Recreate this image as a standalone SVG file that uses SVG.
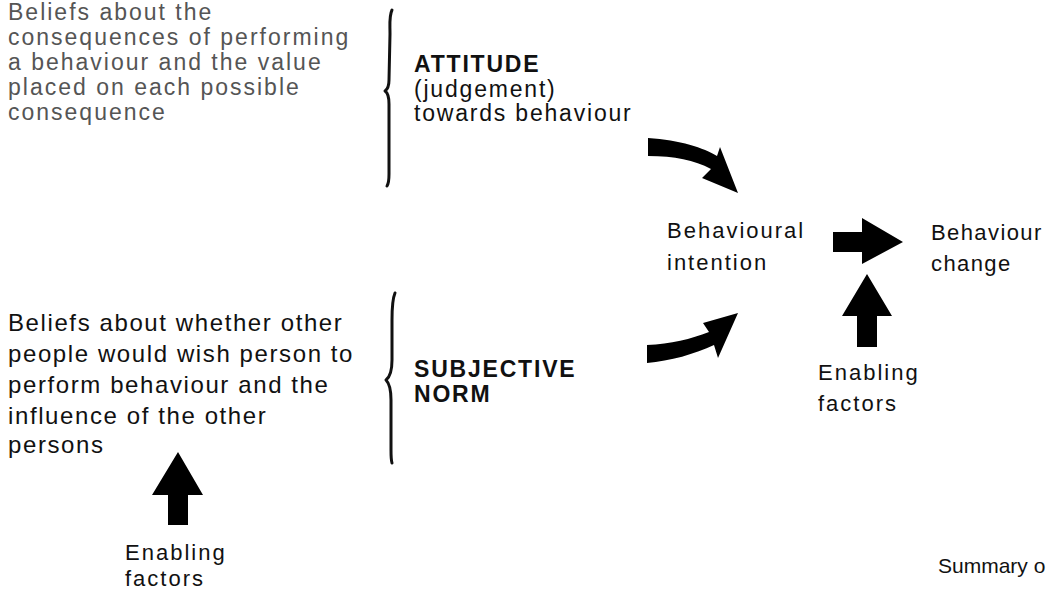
<svg xmlns="http://www.w3.org/2000/svg" width="1048" height="590" viewBox="0 0 1048 590">
  <style>
    text { font-family: "Liberation Sans", Arial, sans-serif; font-size: 22px; fill: #111; letter-spacing: 2px; }
    .light { fill: #555; font-size: 23px; letter-spacing: 2px; }
    .body { font-size: 24px; letter-spacing: 1.6px; }
    .mid { font-size: 23px; letter-spacing: 1.8px; }
    .bold { font-weight: bold; }
    .brace { fill: none; stroke: #111; stroke-width: 3; stroke-linecap: round; stroke-linejoin: round; }
    .arrow { fill: #000; stroke: none; }
  </style>
  <rect width="1048" height="590" fill="#fff"/>

  <!-- beliefs about consequences -->
  <g id="beliefs-consequences">
    <text class="light" x="8" y="20">Beliefs about the</text>
    <text class="light" x="8" y="45">consequences of performing</text>
    <text class="light" x="8" y="70">a behaviour and the value</text>
    <text class="light" x="8" y="95">placed on each possible</text>
    <text class="light" x="8" y="120">consequence</text>
  </g>

  <!-- attitude -->
  <g id="attitude">
    <path class="brace" d="M392,10 C389,16 390,24 390,34 L389,80 C389,86 388,89 385,91 C388,93 389,97 389,104 L389,174 C389,180 389,183 387,186"/>
    <text class="mid bold" x="414" y="72">ATTITUDE</text>
    <text class="mid" x="414" y="97">(judgement)</text>
    <text class="mid" x="414" y="121">towards behaviour</text>
  </g>

  <!-- beliefs about others -->
  <g id="beliefs-others">
    <text class="body" x="8" y="331">Beliefs about whether other</text>
    <text class="body" x="8" y="362">people would wish person to</text>
    <text class="body" x="8" y="393">perform behaviour and the</text>
    <text class="body" x="8" y="424">influence of the other</text>
    <text class="body" x="8" y="453">persons</text>
  </g>

  <!-- subjective norm -->
  <g id="subjective-norm">
    <path class="brace" d="M395,293 C392,300 392,310 392,320 L392,360 C392,372 390,377 386,380 C390,384 391,390 391,400 L391,450 C391,456 391,460 392,463"/>
    <text class="mid bold" x="414" y="377">SUBJECTIVE</text>
    <text class="mid bold" x="414" y="402">NORM</text>
  </g>

  <!-- behavioural intention -->
  <g id="behavioural-intention">
    <text x="667" y="238">Behavioural</text>
    <text x="667" y="270">intention</text>
  </g>

  <!-- behaviour change -->
  <g id="behaviour-change">
    <text x="931" y="240" style="letter-spacing:1.4px">Behaviour</text>
    <text x="931" y="271" style="letter-spacing:1.4px">change</text>
  </g>

  <!-- enabling factors (right) -->
  <g id="enabling-factors-right">
    <text x="818" y="380">Enabling</text>
    <text x="818" y="411">factors</text>
  </g>

  <!-- enabling factors (left) -->
  <g id="enabling-factors-left">
    <text x="125" y="560">Enabling</text>
    <text x="125" y="586">factors</text>
  </g>

  <g id="caption">
    <text x="938" y="573" style="font-size:21px;letter-spacing:0">Summary o</text>
  </g>

  <!-- connectors -->
  <g id="connectors">
    <!-- attitude to intention -->
    <path class="arrow" d="M648,138 C680,140 704,148 717,156 L720,147 L738,193 L702,178 L711,169 C694,160 675,156 648,156 Z"/>
    <!-- subjective norm to intention -->
    <path class="arrow" d="M647,345 C671,344 691,339 709,332 L703,323 L738,313 L718,358 L714,345 C695,354 670,361 647,363 Z"/>
    <!-- intention to behaviour change -->
    <path class="arrow" d="M833,232 L862,232 L862,218 L903,242 L862,264 L862,252 L833,252 Z"/>
    <!-- enabling factors to behaviour change -->
    <path class="arrow" d="M857,347 L857,316 L842,316 L867,274 L892,316 L877,316 L877,347 Z"/>
    <!-- enabling factors to beliefs about others -->
    <path class="arrow" d="M168,525 L168,495 L152,495 L178,452 L203,495 L188,495 L188,525 Z"/>
  </g>
</svg>
